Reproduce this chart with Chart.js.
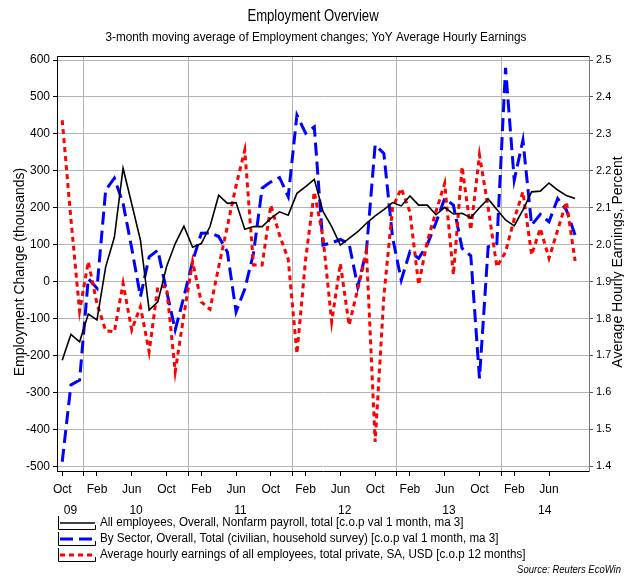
<!DOCTYPE html>
<html>
<head>
<meta charset="utf-8">
<script src="https://cdn.jsdelivr.net/npm/chart.js@4/dist/chart.umd.min.js"></script>
<style>
html, body { margin: 0; padding: 0; background: #fff; }
</style>
</head>
<body>
<canvas id="chart" width="624" height="577"></canvas>
<script>
const FONT = "'Liberation Sans Narrow', 'Arial Narrow', 'Liberation Sans', Arial, sans-serif";

// one value per month, index 0 = Oct 09 ... 59 = Sep 14
const payrolls = [-213, -143, -163, -88, -104, 40, 120, 307, 210, 112,
    -77, -55, 40, 103, 150, 93, 103, 149, 234, 212,
    214, 142, 149, 149, 171, 189, 180, 239, 257, 277,
    190, 149, 99, 117, 135, 158, 178, 195, 214, 205,
    232, 207, 207, 181, 201, 183, 185, 173, 200, 224,
    195, 167, 151, 194, 243, 245, 267, 248, 233, 225];

const household = [-488, -280, -267, 8, -18, 248, 280, 212, 90, -41,
    67, 85, -25, -131, -41, 55, 131, 132, 122, 80,
    -82, -20, 76, 253, 270, 282, 230, 451, 402, 419,
    99, 105, 114, 103, -14, 85, 370, 347, 120, 4,
    81, 63, 100, 160, 225, 207, 90, 70, -262, 94,
    103, 579, 275, 383, 153, 182, 162, 225, 194, 126];

const earnings = [2.337, 2.07, 1.82, 1.954, 1.84, 1.767, 1.764, 1.895, 1.769, 1.832,
    1.71, 1.886, 1.886, 1.656, 1.81, 1.954, 1.845, 1.825, 1.94, 2.05,
    2.16, 2.256, 1.945, 1.945, 2.107, 2.026, 1.96, 1.705, 1.96, 2.143,
    2.02, 1.791, 1.949, 1.782, 1.88, 1.981, 1.466, 1.86, 2.10, 2.152,
    2.089, 1.891, 2.01, 2.09, 2.166, 1.918, 2.211, 2.04, 2.243, 2.10,
    1.94, 1.98, 2.07, 2.143, 1.972, 2.044, 1.963, 2.04, 2.116, 1.956];

const seriesNames = [
    "All employees, Overall, Nonfarm payroll, total [c.o.p val 1 month, ma 3]",
    "By Sector, Overall, Total (civilian, household survey) [c.o.p val 1 month, ma 3]",
    "Average hourly earnings of all employees, total private, SA, USD [c.o.p 12 months]"
];

// month ticks every 4 months from Oct 09, year labels centred in each year
const monthTickPos = [0, 4, 8, 12, 16, 20, 24, 28, 32, 36, 40, 44, 48, 52, 56];
const monthTickLabels = ["Oct", "Feb", "Jun", "Oct", "Feb", "Jun", "Oct", "Feb", "Jun", "Oct", "Feb", "Jun", "Oct", "Feb", "Jun"];
const yearBreaks = [2.5, 14.5, 26.5, 38.5, 50.5];
const yearPos = [0.95, 8.5, 20.5, 32.5, 44.5, 55.5];
const yearLabels = ["09", "10", "11", "12", "13", "14"];
const leftTicks = [-500, -400, -300, -200, -100, 0, 100, 200, 300, 400, 500, 600];
const rightTicks = [1.4, 1.5, 1.6, 1.7, 1.8, 1.9, 2.0, 2.1, 2.2, 2.3, 2.4, 2.5];

const colors = ["#000000", "#0000ff", "#ff0000"];
const dashes = [[], [13, 6], [5, 4]];
const widths = [1.6, 3, 3];

const toPoints = arr => arr.map((v, i) => ({ x: i, y: v }));

// draw text squeezed horizontally (the original uses a narrow face)
function narrowText(c, txt, x, y, sx) {
    c.save();
    c.translate(x, y);
    c.scale(sx, 1);
    c.fillText(txt, 0, 0);
    c.restore();
}

const textPlugin = {
    id: "texts",
    afterDraw(chart) {
        const c = chart.ctx;
        const a = chart.chartArea;
        c.save();
        c.strokeStyle = "#000";
        c.lineWidth = 1;
        c.beginPath();
        c.moveTo(a.left, a.top + 0.5);
        c.lineTo(a.right, a.top + 0.5);
        c.stroke();

        c.fillStyle = "#000";
        c.textAlign = "center";
        c.textBaseline = "middle";
        c.font = "16px " + FONT;
        narrowText(c, "Employment Overview", 313, 17, 0.82);
        c.font = "12px " + FONT;
        narrowText(c, "3-month moving average of Employment changes; YoY Average Hourly Earnings", 316, 38, 0.98);

        c.font = "14px " + FONT;
        c.save();
        c.translate(20, 272);
        c.rotate(-Math.PI / 2);
        c.fillText("Employment Change (thousands)", 0, 0);
        c.restore();
        c.save();
        c.translate(618, 262);
        c.rotate(-Math.PI / 2);
        c.fillText("Average Hourly Earnings, Percent", 0, 0);
        c.restore();

        const rows = [523, 539, 555];
        c.textAlign = "left";
        c.font = "12px " + FONT;
        rows.forEach((y, k) => {
            c.strokeStyle = "#000";
            c.lineWidth = 1;
            c.setLineDash([]);
            c.beginPath();
            c.moveTo(58.5, y - 7);
            c.lineTo(58.5, y + 6.5);
            c.lineTo(95.5, y + 6.5);
            c.lineTo(95.5, y + 2);
            c.stroke();
            c.strokeStyle = colors[k];
            c.lineWidth = widths[k];
            c.setLineDash(dashes[k]);
            c.beginPath();
            c.moveTo(60, y);
            c.lineTo(95, y);
            c.stroke();
            c.setLineDash([]);
            c.fillStyle = "#000";
            narrowText(c, seriesNames[k], 100, y, 0.97);
        });

        c.textAlign = "right";
        c.font = "italic 10px " + FONT;
        narrowText(c, "Source: Reuters EcoWin", 621, 570, 0.95);
        c.restore();
    }
};

new Chart(document.getElementById("chart"), {
    type: "line",
    data: {
        datasets: [
            { label: seriesNames[0], data: toPoints(payrolls), yAxisID: "y" },
            { label: seriesNames[1], data: toPoints(household), yAxisID: "y" },
            { label: seriesNames[2], data: toPoints(earnings), yAxisID: "y2" }
        ].map((d, k) => Object.assign(d, {
            borderColor: colors[k], borderWidth: widths[k], borderDash: dashes[k],
            pointRadius: 0, tension: 0, fill: false, order: k === 0 ? 0 : 3 - k
        }))
    },
    options: {
        responsive: false,
        animation: false,
        layout: { padding: { top: 56, bottom: 60, left: 0, right: 0 } },
        plugins: { legend: { display: false }, title: { display: false }, tooltip: { enabled: false } },
        scales: {
            x: {
                type: "linear", position: "bottom", min: -0.6, max: 60.6, weight: 0,
                afterBuildTicks: s => { s.ticks = monthTickPos.concat(yearBreaks).sort((p, q) => p - q).map(v => ({ value: v })); },
                afterFit: s => { s.height = 29; },
                ticks: {
                    autoSkip: false, maxRotation: 0, padding: 6, color: "#000",
                    font: { family: FONT, size: 12 },
                    callback: v => { const k = monthTickPos.indexOf(v); return k >= 0 ? monthTickLabels[k] : ""; }
                },
                grid: {
                    color: ctx => (ctx.tick && yearBreaks.includes(ctx.tick.value)) ? "#b4b4b4" : "rgba(0,0,0,0)",
                    borderDash: [1, 2], tickBorderDash: [], tickColor: "#000", tickLength: 5, tickWidth: 1
                },
                border: { color: "#000", width: 1 }
            },
            xYear: {
                type: "linear", position: "bottom", min: -0.6, max: 60.6, weight: 1,
                afterBuildTicks: s => { s.ticks = yearPos.map(v => ({ value: v })); },
                afterFit: s => { s.height = 17; },
                ticks: {
                    autoSkip: false, maxRotation: 0, padding: 3, color: "#000",
                    font: { family: FONT, size: 12 },
                    callback: (v, i) => yearLabels[i]
                },
                grid: { display: false, drawTicks: false },
                border: { display: false }
            },
            y: {
                type: "linear", position: "left", min: -513, max: 611,
                afterBuildTicks: s => { s.ticks = leftTicks.map(v => ({ value: v })); },
                afterFit: s => { s.width = 57; },
                ticks: { padding: 3, color: "#000", font: { family: FONT, size: 12 } },
                grid: { color: "#b4b4b4", borderDash: [1, 2], tickBorderDash: [], tickColor: "#000", tickLength: 4 },
                border: { color: "#000", width: 1 }
            },
            y2: {
                type: "linear", position: "right", min: 1.387, max: 2.511,
                afterBuildTicks: s => { s.ticks = rightTicks.map(v => ({ value: v })); },
                afterFit: s => { s.width = 35; },
                ticks: { padding: 3, color: "#000", font: { family: FONT, size: 11 }, callback: v => v.toFixed(1) },
                grid: { drawOnChartArea: false, tickColor: "#555", tickLength: 4 },
                border: { color: "#777", width: 1 }
            }
        }
    },
    plugins: [textPlugin]
});
</script>
</body>
</html>
